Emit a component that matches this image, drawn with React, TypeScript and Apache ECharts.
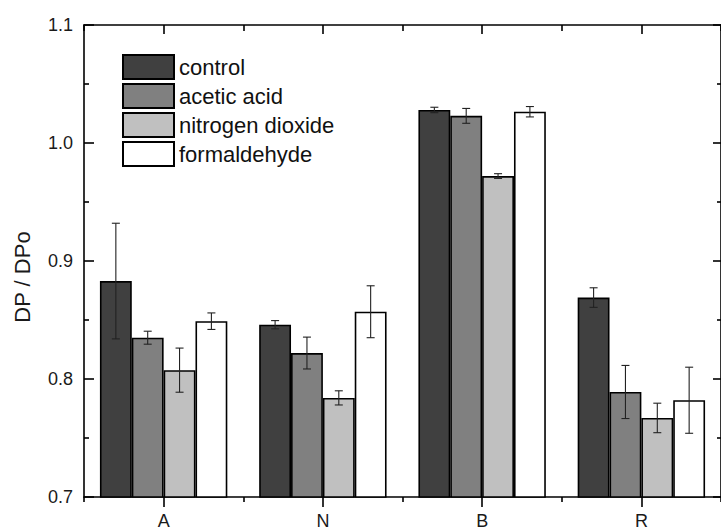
import React, { useEffect, useRef } from "react";
import * as echarts from "echarts";

const categories = ["A", "N", "B", "R"];
const seriesNames = ["control", "acetic acid", "nitrogen dioxide", "formaldehyde"];
const seriesColors = ["#404040", "#808080", "#c0c0c0", "#ffffff"];

const control = [0.883, 0.846, 1.028, 0.869];
const controlErr = [0.049, 0.0035, 0.0023, 0.0083];
const acetic = [0.835, 0.822, 1.023, 0.789];
const aceticErr = [0.0055, 0.0135, 0.0063, 0.0225];
const nitrogen = [0.8075, 0.784, 0.972, 0.767];
const nitrogenErr = [0.0187, 0.006, 0.002, 0.0125];
const formaldehyde = [0.849, 0.857, 1.0265, 0.782];
const formaldehydeErr = [0.007, 0.022, 0.0044, 0.028];

const yTicks = { min: 0.7, max: 1.1, interval: 0.1 };

const FONT = '"Liberation Sans", Arial, Helvetica, sans-serif';

export default function App() {
  const ref = useRef<HTMLDivElement>(null);

  useEffect(() => {
    document.body.style.margin = "0";
    if (!ref.current) return;
    const chart = echarts.init(ref.current, undefined, { renderer: "svg" });

    const values = [control, acetic, nitrogen, formaldehyde];
    const errs = [controlErr, aceticErr, nitrogenErr, formaldehydeErr];
    const errData: number[][] = [];
    values.forEach((arr, s) =>
      arr.forEach((v, c) => errData.push([c, s, v, errs[s][c]]))
    );

    const barSeries = seriesNames.map((name, i) => ({
      name,
      type: "bar",
      data: values[i],
      barGap: "0%",
      barCategoryGap: "20%",
      itemStyle: { color: seriesColors[i], borderColor: "#000", borderWidth: 1.6 },
      emphasis: { disabled: true },
    }));

    const axisLine = { show: true, lineStyle: { color: "#000", width: 1.6 } };

    const option: any = {
      animation: false,
      backgroundColor: "#fff",
      textStyle: { fontFamily: FONT },
      grid: { left: 84, top: 25, width: 640, height: 475, containLabel: false },
      legend: {
        data: seriesNames,
        orient: "vertical",
        left: 117,
        top: 49,
        itemWidth: 51,
        itemHeight: 24,
        itemGap: 3,
        icon: "rect",
        selectedMode: false,
        textStyle: { fontSize: 22, color: "#111", fontFamily: FONT },
      },
      xAxis: [
        {
          type: "category",
          data: categories,
          position: "bottom",
          axisLine,
          axisTick: { show: true, alignWithLabel: true, length: 10, lineStyle: { color: "#000", width: 1.6 } },
          axisLabel: { fontSize: 18, color: "#1a1a1a", margin: 15, fontFamily: FONT },
          splitLine: { show: false },
        },
        {
          type: "category",
          data: categories,
          position: "bottom",
          axisLine: { show: false },
          axisTick: { show: true, length: 5, lineStyle: { color: "#000", width: 1.6 } },
          axisLabel: { show: false },
          splitLine: { show: false },
        },
        {
          type: "category",
          data: categories,
          position: "top",
          axisLine,
          axisTick: { show: true, alignWithLabel: true, inside: true, length: 9, lineStyle: { color: "#000", width: 1.6 } },
          axisLabel: { show: false },
          splitLine: { show: false },
        },
        {
          type: "category",
          data: categories,
          position: "top",
          axisLine: { show: false },
          axisTick: { show: true, inside: true, length: 6, lineStyle: { color: "#000", width: 1.6 } },
          axisLabel: { show: false },
          splitLine: { show: false },
        },
      ],
      yAxis: [
        {
          type: "value",
          min: yTicks.min,
          max: yTicks.max,
          interval: yTicks.interval,
          position: "left",
          axisLine,
          axisTick: { show: true, inside: true, length: 10, lineStyle: { color: "#000", width: 1.6 } },
          minorTick: { show: true, splitNumber: 2, length: 5, lineStyle: { color: "#000", width: 1.6 } },
          axisLabel: {
            fontSize: 18,
            color: "#1a1a1a",
            margin: 11,
            fontFamily: FONT,
            formatter: (v: number) => v.toFixed(1),
          },
          splitLine: { show: false },
        },
        {
          type: "value",
          min: yTicks.min,
          max: yTicks.max,
          interval: yTicks.interval,
          position: "right",
          axisLine,
          axisTick: { show: true, inside: true, length: 8, lineStyle: { color: "#000", width: 1.6 } },
          minorTick: { show: true, splitNumber: 2, length: 4, lineStyle: { color: "#000", width: 1.6 } },
          axisLabel: { show: false },
          splitLine: { show: false },
        },
      ],
      series: [
        ...barSeries,
        {
          type: "custom",
          name: "errors",
          xAxisIndex: 0,
          yAxisIndex: 0,
          data: errData,
          encode: { x: 0, y: 2 },
          z: 10,
          silent: true,
          renderItem: (params: any, api: any) => {
            const c = api.value(0);
            const s = api.value(1);
            const v = api.value(2);
            const e = api.value(3);
            const band = api.size([1, 0])[0];
            const bw = (band * 0.8) / 4;
            const center = api.coord([c, v]);
            const x = center[0] + (s - 1.5) * bw;
            const yTop = api.coord([c, v + e])[1];
            const yBot = api.coord([c, v - e])[1];
            const cap = 4;
            const style = { stroke: "#222", lineWidth: 1.1 };
            return {
              type: "group",
              children: [
                { type: "line", shape: { x1: x, y1: yTop, x2: x, y2: yBot }, style },
                { type: "line", shape: { x1: x - cap, y1: yTop, x2: x + cap, y2: yTop }, style },
                { type: "line", shape: { x1: x - cap, y1: yBot, x2: x + cap, y2: yBot }, style },
              ],
            };
          },
        },
      ],
      graphic: [
        {
          type: "text",
          x: 22,
          y: 277,
          rotation: Math.PI / 2,
          style: {
            text: "DP / DPo",
            fontSize: 22,
            fontFamily: FONT,
            fill: "#1a1a1a",
            textAlign: "center",
            textVerticalAlign: "middle",
          },
        },
      ],
    };

    chart.setOption(option);
    return () => chart.dispose();
  }, []);

  return <div ref={ref} style={{ width: 721, height: 530 }} />;
}
